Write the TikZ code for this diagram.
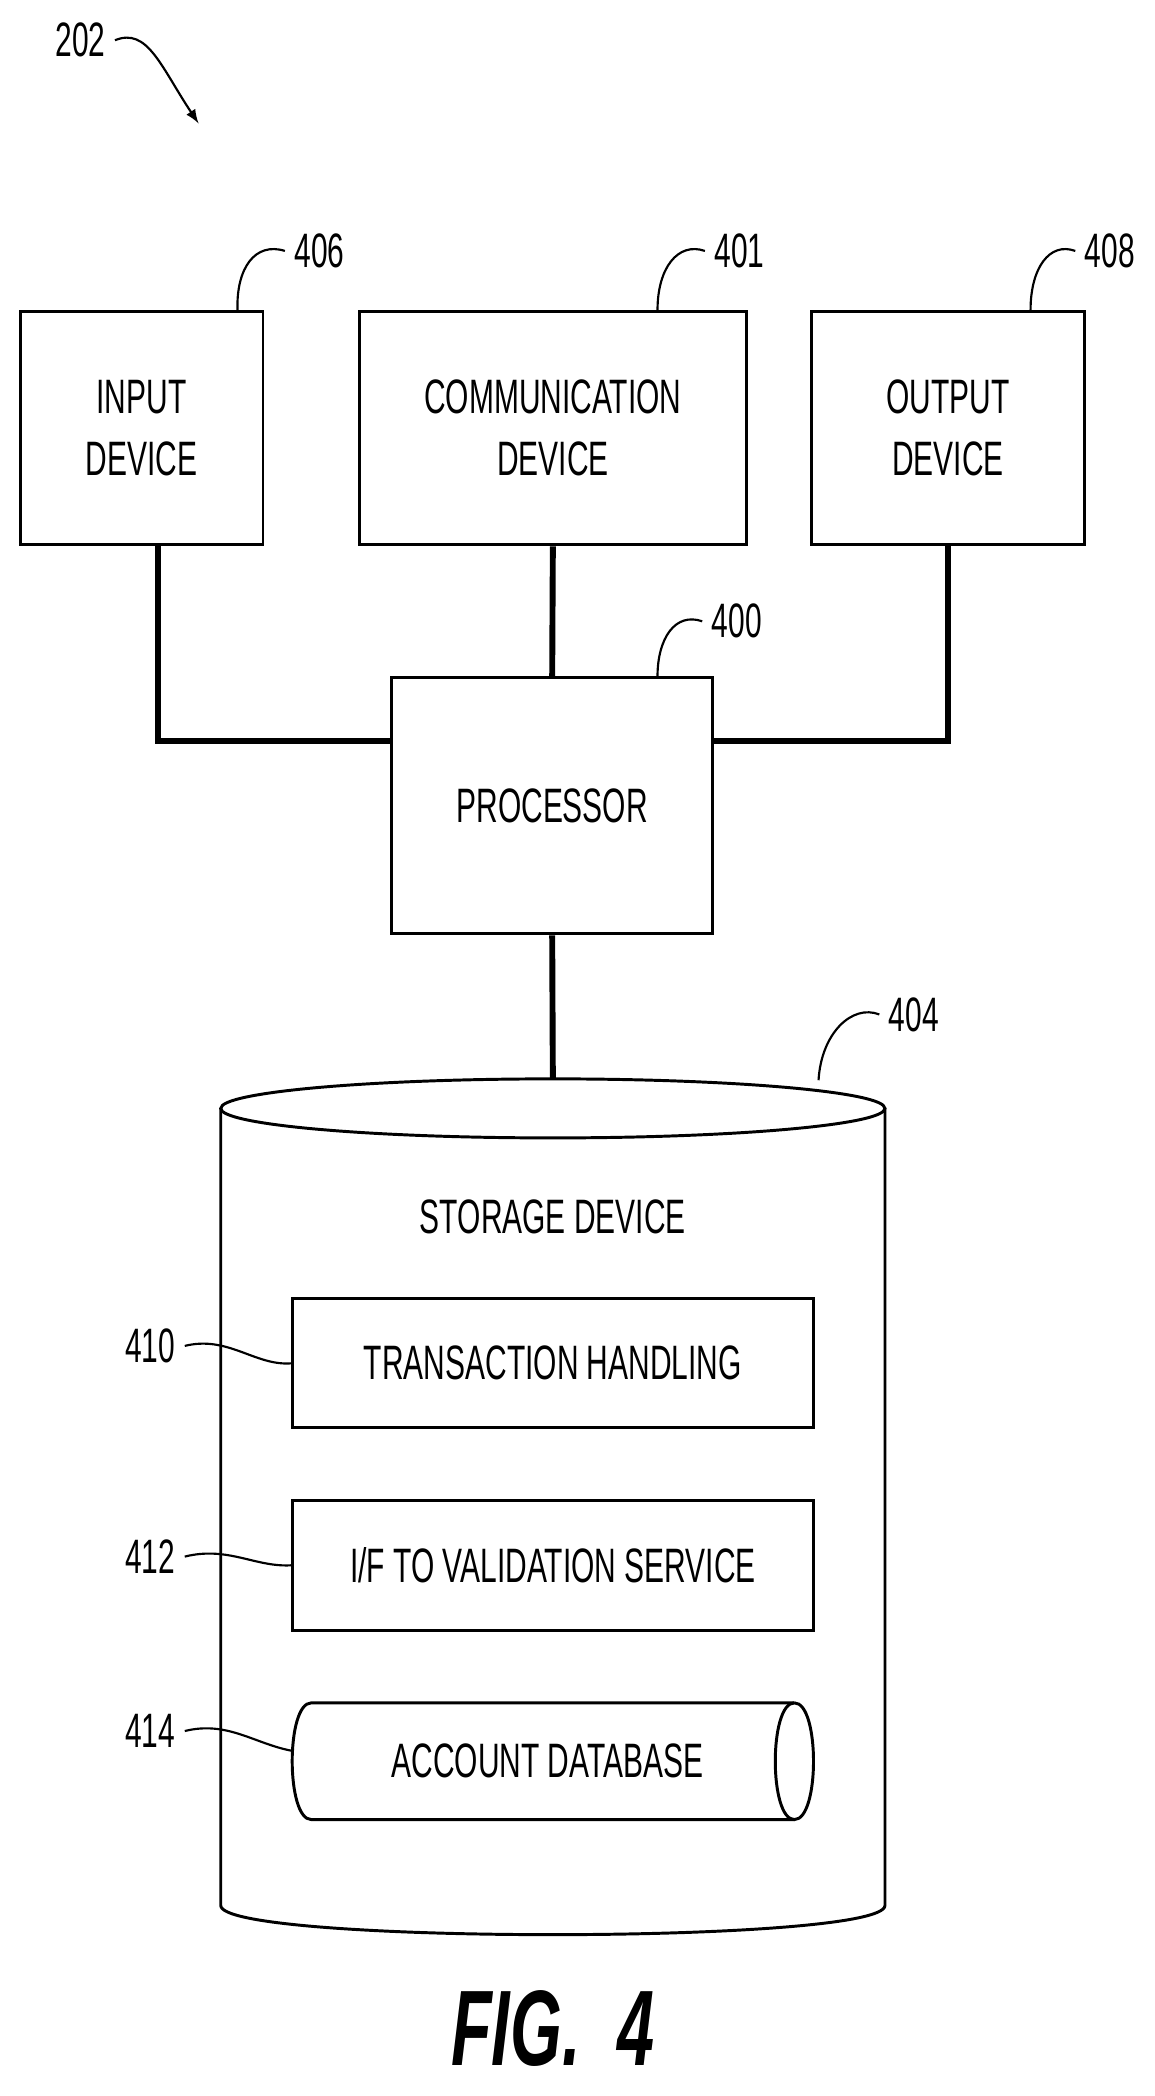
\documentclass[tikz,border=0pt]{standalone}
\usepackage{fontspec}
\setmainfont{Liberation Sans}[FakeStretch=0.62]
\usetikzlibrary{positioning}
\begin{document}
\begin{tikzpicture}[x=0.5pt,y=-0.5pt]
    \tikzstyle{blk} = [draw, line width=1.1pt, inner sep=0pt, align=center, font=\fontsize{18}{23}\selectfont]
    \tikzstyle{wire} = [draw, line width=2.2pt]
    \tikzstyle{lead} = [draw, line width=0.8pt]
    \tikzstyle{num} = [font=\fontsize{18}{20}\selectfont]

    \useasboundingbox (0,0) rectangle (860,1562);

        % boxes
        \node[blk, minimum width=90.5pt, minimum height=87pt] (inp) at (105.5,319) {INPUT\\DEVICE};
        \node[blk, minimum width=144pt, minimum height=87pt] (comm) at (412,319) {COMMUNICATION\\DEVICE};
        \node[blk, minimum width=101.5pt, minimum height=87pt] (outp) at (706.5,319) {OUTPUT\\DEVICE};
        \node[blk, minimum width=119.5pt, minimum height=95.5pt] (proc) at (411.5,600.5) {PROCESSOR};
        \coordinate (inpw) at (118,406);

        % storage cylinder
        \draw[line width=1.1pt] (412,826) ellipse (247.5 and 22);
        \draw[line width=1.1pt] (164.5,826) -- (164.5,1420) .. controls (164.5,1449) and (659.5,1449) .. (659.5,1420) -- (659.5,826);
        \coordinate (stor) at (412,804);
        \node[num] (storlbl) at (412,907) {STORAGE DEVICE};

        \node[blk, minimum width=194pt, minimum height=48pt] (trans) at (412,1016) {TRANSACTION HANDLING};
        \node[blk, minimum width=194pt, minimum height=48.5pt] (ifval) at (412,1166.5) {I/F TO VALIDATION SERVICE};
        \node[font=\fontsize{18}{20}\selectfont] (acct) at (408,1312) {ACCOUNT DATABASE};
        \draw[line width=1.1pt] (592,1269) -- (232,1269) .. controls (213,1269) and (213,1356) .. (232,1356) -- (592,1356);
        \draw[line width=1.1pt] (592,1269) .. controls (573,1269) and (573,1356) .. (592,1356) .. controls (611,1356) and (611,1269) .. (592,1269);
        \coordinate (acctw) at (219,1305);

        % connections
        \draw[wire] (inpw) |- (proc.west |- 0,552);
        \draw[wire] (outp.south) |- (proc.east |- 0,552);
        \draw[wire] (comm.south) -- (proc.north);
        \draw[wire] (proc.south) -- (stor);

        % reference numerals
        \node[num] (n406) at (238,187) {406};
        \node[num] (n401) at (551,187) {401};
        \node[num] (n408) at (827,187) {408};
        \node[num] (n400) at (549,463) {400};
        \node[num] (n404) at (681,756) {404};
        \node[num] (n410) at (112,1003) {410};
        \node[num] (n412) at (112,1160) {412};
        \node[num] (n414) at (112,1290) {414};
        \node[num] (n202) at (60,30) {202};

        \draw[lead] (n406.west) .. controls (190,180) and (176,200) .. (inp.north east -| 177,0);
        \draw[lead] (n401.west) .. controls (505,180) and (490,200) .. (comm.north -| 490,0);
        \draw[lead] (n408.west) .. controls (782,180) and (768,200) .. (outp.north -| 768,0);
        \draw[lead] (n400.west) .. controls (503,456) and (490,476) .. (proc.north -| 490,0);
        \draw[lead] (n404.west) .. controls (635,748) and (612,770) .. (610,805);
        \draw[lead] (n410.east) .. controls (170,995) and (190,1018) .. (trans.west);
        \draw[lead] (n412.east) .. controls (170,1152) and (190,1168) .. (ifval.west);
        \draw[lead] (n414.east) .. controls (170,1282) and (190,1300) .. (acctw);
        \draw[lead, -latex] (n202.east) .. controls (110,20) and (120,50) .. (148,92);

        \node[font=\fontsize{40}{44}\selectfont\bfseries\itshape] (fig) at (412,1512) {FIG.\ \ 4};
    \end{tikzpicture}
\end{document}
